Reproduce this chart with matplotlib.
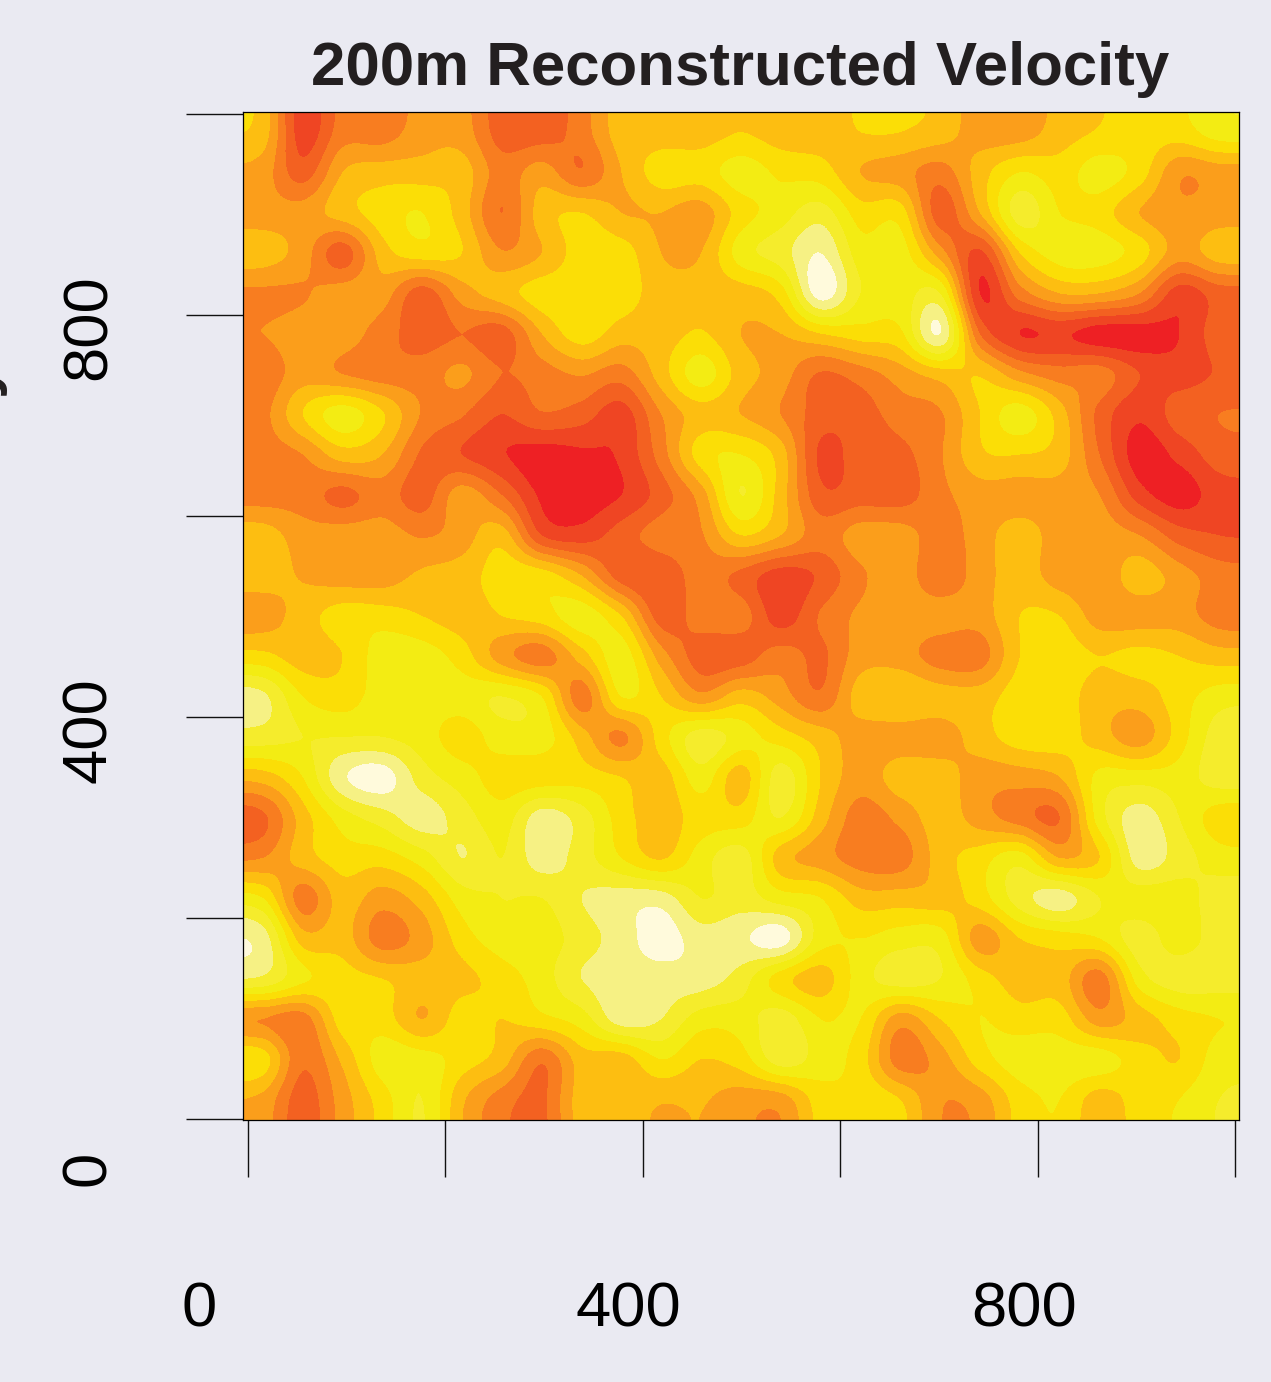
import numpy as np
import matplotlib
matplotlib.use("Agg")
import matplotlib.pyplot as plt
from matplotlib.colors import ListedColormap, BoundaryNorm

W, H = 1271, 1382
BG = "#EAEAF2"
TITLE = "200m Reconstructed Velocity"
X_TICKS = [0, 200, 400, 600, 800, 1000]
Y_TICKS = [0, 200, 400, 600, 800, 1000]
X_LABELS = ["0", "400", "800"]
Y_LABELS = ["0", "400", "800"]
COLORS = ["#EE2024", "#EF4523", "#F36121", "#F87D20", "#FB9E1B", "#FDBE11",
          "#FBDE06", "#F3EC13", "#F5EC2C", "#F6F184", "#FFFADC"]

# velocity level, rows from top (y~1000) to bottom (y~0)
velocity = [
    [5, 1, 3, 3, 4, 4, 2, 2, 3, 5, 5, 5, 5.5, 5, 5, 5.5, 5.5, 5, 4, 4, 5, 5.6, 6, 6, 7],
    [4, 2, 4.5, 5, 5, 5, 3, 4, 2.6, 4.5, 6, 6, 7, 6.3, 6, 4.5, 4, 3, 5, 6.5, 6, 7, 6, 3.7, 4],
    [4, 4, 5, 6, 6.5, 5, 2.5, 5, 5.5, 4.5, 4.5, 4, 6, 7, 8, 6, 6, 2, 4.5, 8, 6.5, 6, 4.5, 3.7, 4],
    [5, 4, 2, 5, 6, 5.5, 3.6, 4.5, 6, 6, 4.5, 4.5, 7, 8, 9.5, 7, 7, 4, 1.3, 5.5, 7, 7, 6, 4, 5],
    [3.3, 3.4, 4, 4, 2, 4, 5, 6, 6, 6, 5, 5, 5, 6, 10, 7.5, 7, 7.5, 0.5, 3, 4.5, 4.5, 3.5, 1, 2],
    [3.5, 4, 4, 3, 2, 2.5, 2, 4.5, 6, 5, 5, 5.6, 4.5, 4.5, 5.5, 6, 6.3, 9.5, 2.5, 0.5, 0.7, 0, 0, 0.5, 2],
    [2.8, 4, 3.5, 3, 3, 3.7, 2.5, 3, 3.6, 3, 5, 7, 5, 4, 2.4, 3, 4, 5, 5.4, 3.8, 3, 3, 1.5, 1, 1.6],
    [3.2, 5.5, 7, 5.6, 3.4, 2.6, 1.5, 2.4, 2, 1, 3.5, 5, 4.5, 3.5, 2, 2, 3, 3.4, 5.5, 7, 5, 2.2, 0.7, 2, 2.5],
    [3, 3.5, 5, 4.5, 2.3, 1.5, 0.6, 0, 0.3, 0.7, 3, 6, 6.5, 5, 1.3, 2, 2.2, 3.4, 5.3, 5.5, 5, 2.5, 0, 0.8, 2],
    [3, 3, 2.2, 3, 2, 4, 2.5, 0.3, 0, 0.5, 2, 4, 7.5, 5, 1.8, 2, 2, 3.2, 4, 4, 4, 3.5, 1, 0, 1],
    [5, 4, 4, 4, 3.4, 4, 5, 1.5, 1, 2, 3, 3.4, 5.5, 4.5, 3, 4, 4, 3, 4, 5, 4, 4, 3.5, 2, 1.5],
    [5, 4.4, 4, 4, 4.7, 5, 6, 6, 4.5, 2, 1.7, 3, 2.2, 1, 1.7, 3.3, 4, 2.8, 4, 5, 4, 3.8, 5, 4, 3],
    [4, 5, 6, 6, 5.5, 5, 5.5, 6, 7, 5.5, 2, 3, 3, 1, 2.6, 3.7, 4, 4, 4, 5.5, 5.5, 4, 4, 4, 3],
    [5.8, 5, 5.5, 7, 7, 6, 4, 3, 5, 7, 4, 2, 2, 3, 2.3, 4, 4, 3, 3, 5.5, 6, 5.5, 5.8, 5.5, 5],
    [8.7, 6.5, 6, 7, 7, 7, 7.5, 6.5, 3, 6.5, 5.5, 3.8, 5, 4, 2.7, 5, 5.5, 5, 5, 6, 6, 5, 5, 6, 7],
    [8, 7.5, 7.5, 7.5, 7, 6, 7, 7, 5, 3.3, 6, 8, 7, 6, 5, 4, 4, 4, 5, 6, 6, 5, 4, 6, 8],
    [5, 6.5, 9.3, 10, 8, 7, 6, 6, 6, 5.5, 5, 7, 5, 8, 5.5, 4, 5, 5, 4, 4, 4.5, 6.8, 7, 7, 8],
    [2.3, 5, 7, 8, 9, 8, 7, 9, 8, 6, 5, 6, 6, 7.5, 5, 3, 3.8, 5, 4, 3, 2.5, 7, 9, 7.5, 6],
    [3.5, 5, 6, 6, 7, 8.5, 7.5, 9, 8, 6.5, 5.4, 7, 8, 5, 4, 3, 3, 5, 6, 7, 4.5, 5.5, 9, 8, 7],
    [6.5, 3, 5, 4, 5, 7, 7.5, 7.5, 8.5, 9, 9, 7.5, 8, 7, 6.5, 5, 5, 5, 6, 8, 9, 7.5, 7, 7, 8],
    [9, 5, 5, 3, 4, 6, 7, 7, 8, 9, 10, 9, 9.3, 10, 7, 6.5, 7, 7, 4, 5.5, 6, 6.5, 8, 7, 8],
    [8.3, 6.7, 6, 5.5, 5, 5.2, 6, 7, 8.5, 9, 9, 9, 8, 6, 5, 7, 8, 7.5, 6, 5, 5, 3, 7, 8, 8],
    [3.5, 3, 6, 6, 4.5, 6, 5.5, 6.2, 7, 9, 8.5, 7, 7, 8, 6.5, 6.5, 4, 5.5, 6.5, 6, 6, 4, 5, 6, 6.5],
    [6, 2.7, 4.7, 7, 7, 6, 5, 2.7, 5, 5, 6.5, 5.5, 6, 8, 7, 6, 3, 4, 6, 7, 7, 7, 6, 5.5, 7],
    [4.2, 2, 4, 6, 7.5, 4.7, 3, 2.3, 5, 5, 4.6, 4.6, 4, 4, 6, 6.3, 5.5, 3.6, 4, 6, 6.5, 5, 6, 6.5, 7.5],
]

plt.rcParams["font.family"] = ["Liberation Sans", "DejaVu Sans"]
fig = plt.figure(figsize=(W / 100, H / 100), dpi=100, facecolor=BG)
ax = fig.add_axes([243 / W, 1 - 1120 / H, 996 / W, 1008 / H])

xlim = (-5.07, 1004.0)
ylim = (-1.0, 1002.0)
cmap = ListedColormap(COLORS)
norm = BoundaryNorm(np.arange(-0.5, 11.5, 1.0), cmap.N)
ax.imshow(np.array(velocity), cmap=cmap, norm=norm, origin="upper", aspect="auto",
          extent=(xlim[0], xlim[1], ylim[0], ylim[1]),
          interpolation="catrom", interpolation_stage="data")
ax.set_xlim(xlim)
ax.set_ylim(ylim)

ax.set_xticks(X_TICKS)
ax.set_yticks(Y_TICKS)
ax.set_xticklabels([])
ax.set_yticklabels([])
ax.tick_params(axis="both", direction="out", length=41, width=1.0, color="#111111")
for s in ax.spines.values():
    s.set_linewidth(0.9)
    s.set_color("black")

def fx(p):
    return p / W

def fy(p):
    return 1 - p / H

for label, px in zip(X_LABELS, [199, 628, 1024]):
    fig.text(fx(px), fy(1310), label, ha="center", va="center", fontsize=45.5, color="black")
for label, py in zip(Y_LABELS, [1168, 730, 327]):
    fig.text(fx(89), fy(py), label, ha="center", va="center", rotation=90, fontsize=45.5, color="black")

fig.text(fx(740), fy(69), TITLE, ha="center", va="center", fontsize=44.5,
         fontweight="bold", color="#231F20")
fig.text(fx(7), fy(381), "y", ha="right", va="center", rotation=90, fontsize=45,
         fontweight="bold", color="#231F20")

fig.savefig("out.png", dpi=100, facecolor=BG)
